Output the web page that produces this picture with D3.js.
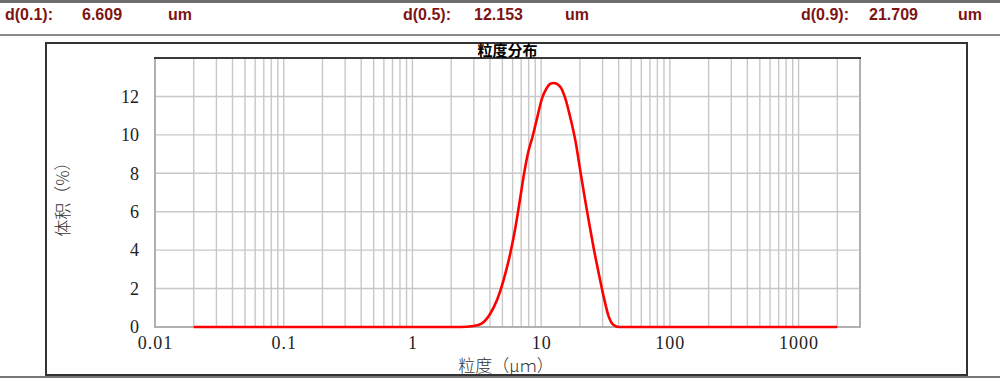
<!DOCTYPE html>
<html>
<head>
<meta charset="utf-8">
<script src="https://cdn.jsdelivr.net/npm/d3@7"></script>
<style>
  html, body { margin: 0; padding: 0; background: #fff; }
  svg { display: block; }
</style>
</head>
<body>
<div id="viz"></div>
<script>
const W = 1000, H = 378

// header stats
const statLabels = ["d(0.1):", "d(0.5):", "d(0.9):"]
const statValues = ["6.609", "12.153", "21.709"]
const statUnit = "um"

// particle size (um) and volume (%)
const sizes = [0.02, 2.35, 2.99, 3.47, 4.03, 4.54, 5.11, 5.76, 6.30, 6.89, 7.31, 8.0, 8.49, 9.29, 10.16, 10.97, 11.79, 12.5, 14.1, 15.4, 16.9, 18.5, 20.2, 22.1, 23.4, 25.6, 28.0, 30.6, 33.5, 36.6, 40.1, 2000]
const volumes = [0, 0, 0.05, 0.19, 0.7, 1.4, 2.45, 3.84, 5.15, 6.75, 7.85, 9.2, 9.8, 10.86, 11.9, 12.4, 12.66, 12.7, 12.5, 11.9, 10.86, 9.65, 8.08, 6.5, 5.55, 4.1, 2.8, 1.58, 0.54, 0.1, 0, 0]

const xTickValues = [0.01, 0.1, 1, 10, 100, 1000]
const xTickLabels = ["0.01", "0.1", "1", "10", "100", "1000"]
const yTickValues = [0, 2, 4, 6, 8, 10, 12]

const red = "#7d1414"
const margin = { left: 155, right: 140, top: 58, bottom: 51 }

const svg = d3.select("#viz").append("svg").attr("width", W).attr("height", H)
svg.append("rect").attr("width", W).attr("height", H).attr("fill", "#fff")

// top bar and header separator
svg.append("rect").attr("x", 0).attr("y", 0).attr("width", W).attr("height", 3).attr("fill", "#6e6e6e")
svg.append("rect").attr("x", 0).attr("y", 34).attr("width", W).attr("height", 2).attr("fill", "#8a8a8a")
svg.append("rect").attr("x", 0).attr("y", 376).attr("width", W).attr("height", 2).attr("fill", "#777")

const statX = [[5, 82, 168], [403, 474, 565], [801, 869, 958]]
statLabels.forEach((lab, i) => {
    const g = svg.append("g").attr("font-family", "Arial, 'Liberation Sans', sans-serif")
        .attr("font-weight", "bold").attr("font-size", 16).attr("fill", red)
    g.append("text").attr("x", statX[i][0]).attr("y", 20).text(lab)
    g.append("text").attr("x", statX[i][1]).attr("y", 20).text(statValues[i])
    g.append("text").attr("x", statX[i][2]).attr("y", 20).text(statUnit)
})

// chart box
svg.append("rect").attr("x", 46).attr("y", 43).attr("width", 921).attr("height", 332)
    .attr("fill", "none").attr("stroke", "#333").attr("stroke-width", 2)

const x = d3.scaleLog().domain([0.01, 3000]).range([margin.left, W - margin.right])
const y = d3.scaleLinear().domain([0, 14]).range([H - margin.bottom, margin.top])

// grid
const minor = []
for (let e = -2; e <= 3; e++) {
    for (let m = 1; m <= 9; m++) {
        const v = m * Math.pow(10, e)
        if (v > 0.01 && v < 3000) minor.push(v)
    }
}
svg.append("g").selectAll("line").data(minor).join("line")
    .attr("x1", d => x(d)).attr("x2", d => x(d))
    .attr("y1", y(0)).attr("y2", y(14))
    .attr("stroke", "#c8c8c8").attr("stroke-width", 1.4)
svg.append("g").selectAll("line").data(yTickValues.filter(d => d > 0)).join("line")
    .attr("x1", x(0.01)).attr("x2", x(3000))
    .attr("y1", d => y(d)).attr("y2", d => y(d))
    .attr("stroke", "#c8c8c8").attr("stroke-width", 1.4)

// plot frame
const frame = svg.append("g").attr("fill", "none")
frame.append("path").attr("d", `M${x(0.01)},${y(14)} V${y(0)} H${x(3000)} V${y(14)}`)
    .attr("stroke", "#b0b0b0").attr("stroke-width", 2)
frame.append("line").attr("x1", x(0.01) - 1).attr("x2", x(3000) + 1).attr("y1", y(14)).attr("y2", y(14))
    .attr("stroke", "#3a3a3a").attr("stroke-width", 2)

// axes
const xAxis = d3.axisBottom(x).tickValues(xTickValues).tickFormat((d, i) => xTickLabels[i]).tickSize(0).tickPadding(9)
const gx = svg.append("g").attr("transform", `translate(0,${y(0)})`).call(xAxis)
gx.select(".domain").remove()
gx.selectAll("text").attr("font-family", "'Liberation Serif', 'DejaVu Serif', serif").attr("font-size", 18)
    .attr("fill", "#222").attr("letter-spacing", 1)

const yAxis = d3.axisLeft(y).tickValues(yTickValues).tickSize(0).tickPadding(16)
const gy = svg.append("g").attr("transform", `translate(${margin.left},0)`).call(yAxis)
gy.select(".domain").remove()
gy.selectAll("text").attr("font-family", "'Liberation Serif', 'DejaVu Serif', serif").attr("font-size", 18).attr("fill", "#222")

// titles
svg.append("text").attr("x", (x(0.01) + x(3000)) / 2).attr("y", 56).attr("text-anchor", "middle")
    .attr("font-family", "'Noto Sans CJK SC', sans-serif").attr("font-weight", "bold").attr("font-size", 15)
    .attr("fill", "#000").text("粒度分布")
svg.append("text").attr("x", 506).attr("y", 372).attr("text-anchor", "middle")
    .attr("font-family", "'Noto Sans CJK SC', sans-serif").attr("font-weight", 300).attr("font-size", 17)
    .attr("fill", "#333").text("粒度（μｍ）")
svg.append("text").attr("transform", `translate(69,195) rotate(-90)`).attr("text-anchor", "middle")
    .attr("font-family", "'Noto Sans CJK SC', sans-serif").attr("font-weight", 300).attr("font-size", 17)
    .attr("fill", "#333").text("体积（%）")

// curve
const line = d3.line().x(d => x(d[0])).y(d => y(d[1])).curve(d3.curveMonotoneX)
svg.append("path").datum(sizes.map((s, i) => [s, volumes[i]]))
    .attr("d", line).attr("fill", "none").attr("stroke", "#f00").attr("stroke-width", 2.6)
    .attr("stroke-linejoin", "round")
</script>
</body>
</html>
